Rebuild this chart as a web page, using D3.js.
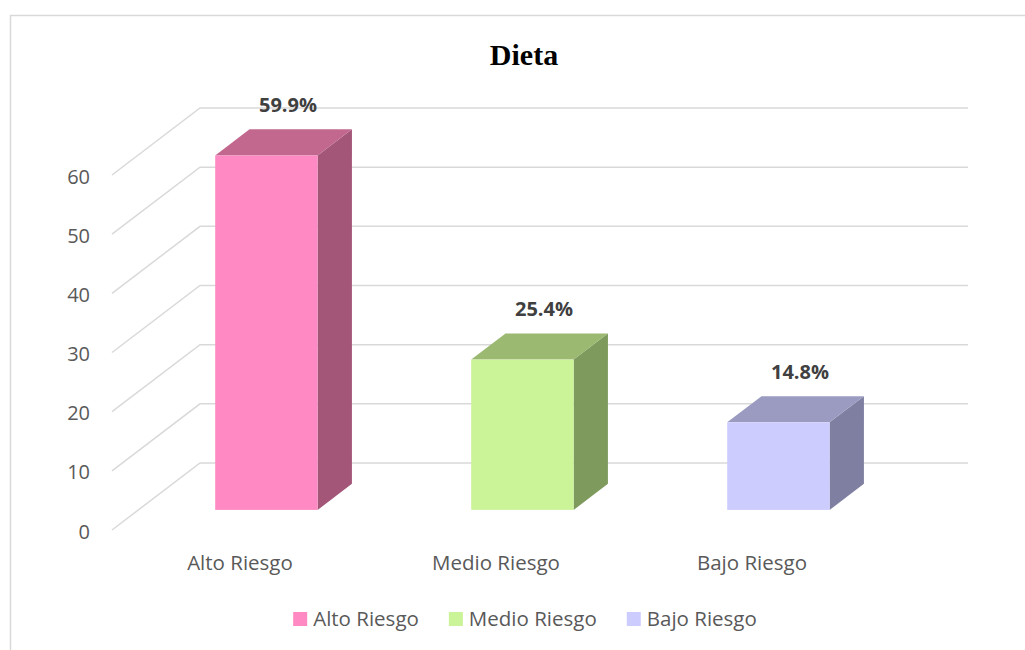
<!DOCTYPE html>
<html>
<head>
<meta charset="utf-8">
<script src="https://cdn.jsdelivr.net/npm/d3@7"></script>
<style>
  body { margin: 0; background: #fff; }
  svg { display: block; }
</style>
</head>
<body>
<div id="chart"></div>
<script>
const categories = ['Alto Riesgo', 'Medio Riesgo', 'Bajo Riesgo'];
const values = [59.9, 25.4, 14.8];
const valueLabels = ['59.9%', '25.4%', '14.8%'];
const yTicks = [0, 10, 20, 30, 40, 50, 60];

const color = {
  grid: '#d9d9d9',
  label: '#595959',
  value: '#404040',
  front: ['#ff8ac3', '#cbf397', '#ccccff'],
  top: ['#c2688f', '#9bb970', '#9b9bc2'],
  side: ['#a35678', '#7e9a5c', '#7f7fa1']
};

const W = 1025, H = 650;
const font = '"Open Sans", sans-serif';
// floor: front edge at y=530 from x=112, back wall shifted by depth vector
const depth = { dx: 88, dy: -67 };
const barDepth = [0.3, 0.69];

const svg = d3.select('#chart').append('svg')
  .attr('width', W).attr('height', H);

// outer border (left and top only visible)
svg.append('path')
  .attr('d', `M10.5,${H} L10.5,15.5 L${W},15.5`)
  .attr('fill', 'none').attr('stroke', color.grid).attr('stroke-width', 1.5);

const y = d3.scaleLinear().domain([0, 60]).range([530, 175]);
const x = d3.scaleBand().domain(categories).range([112, 880])
  .paddingInner(0.6).paddingOuter(0.3);

// gridlines: diagonal side wall + back wall
const grid = svg.append('g').attr('stroke', color.grid).attr('stroke-width', 1.5).attr('fill', 'none');
yTicks.forEach((t) => {
  const y0 = y(t);
  grid.append('path')
    .attr('d', `M112,${y0} L${112 + depth.dx},${y0 + depth.dy} L968,${y0 + depth.dy}`);
});

// y axis labels
svg.append('g').selectAll('text').data(yTicks).enter().append('text')
  .attr('x', 90).attr('y', (d) => y(d) + 8.5)
  .attr('text-anchor', 'end')
  .style('font-family', font).style('font-size', '20px')
  .attr('fill', color.label)
  .text((d) => d);

// bars
const bars = svg.append('g');
categories.forEach((c, i) => {
  const ox = barDepth[0] * depth.dx, oy = barDepth[0] * depth.dy;
  const dx = (barDepth[1] - barDepth[0]) * depth.dx;
  const dy = (barDepth[1] - barDepth[0]) * depth.dy;
  const x0 = x(c) + ox, x1 = x0 + x.bandwidth();
  const yb = y(0) + oy, yt = y(values[i]) + oy;

  bars.append('path')
    .attr('d', `M${x1},${yb} L${x1 + dx},${yb + dy} L${x1 + dx},${yt + dy} L${x1},${yt} Z`)
    .attr('fill', color.side[i]);
  bars.append('path')
    .attr('d', `M${x0},${yt} L${x0 + dx},${yt + dy} L${x1 + dx},${yt + dy} L${x1},${yt} Z`)
    .attr('fill', color.top[i]);
  bars.append('rect')
    .attr('x', x0).attr('y', yt)
    .attr('width', x.bandwidth()).attr('height', yb - yt)
    .attr('fill', color.front[i]);

  bars.append('text')
    .attr('x', x(c) + x.bandwidth() / 2 + 48)
    .attr('y', yt + dy - 17)
    .attr('text-anchor', 'middle')
    .style('font-family', font).style('font-size', '20px')
    .style('font-weight', 'bold')
    .attr('fill', color.value)
    .text(valueLabels[i]);
});

// category labels
svg.append('g').selectAll('text').data(categories).enter().append('text')
  .attr('x', (d) => x(d) + x.bandwidth() / 2)
  .attr('y', 570)
  .attr('text-anchor', 'middle')
  .style('font-family', font).style('font-size', '20.5px')
  .attr('fill', color.label)
  .text((d) => d);

// title
svg.append('text')
  .attr('x', 524).attr('y', 65)
  .attr('text-anchor', 'middle')
  .style('font-family', '"Liberation Serif", serif').style('font-size', '30px')
  .style('font-weight', 'bold')
  .attr('fill', '#000')
  .text('Dieta');

// legend
const legend = svg.append('g');
let lx = 0;
categories.forEach((c, i) => {
  const item = legend.append('g').attr('transform', `translate(${lx},0)`);
  item.append('rect').attr('x', 0).attr('y', 612).attr('width', 14).attr('height', 14)
    .attr('fill', color.front[i]);
  const t = item.append('text').attr('x', 20).attr('y', 626)
    .style('font-family', font).style('font-size', '20.5px')
    .attr('fill', color.label)
    .text(c);
  lx += 20 + t.node().getComputedTextLength() + 30;
});
const legendW = lx - 30;
legend.attr('transform', `translate(${525 - legendW / 2},0)`);
</script>
</body>
</html>
